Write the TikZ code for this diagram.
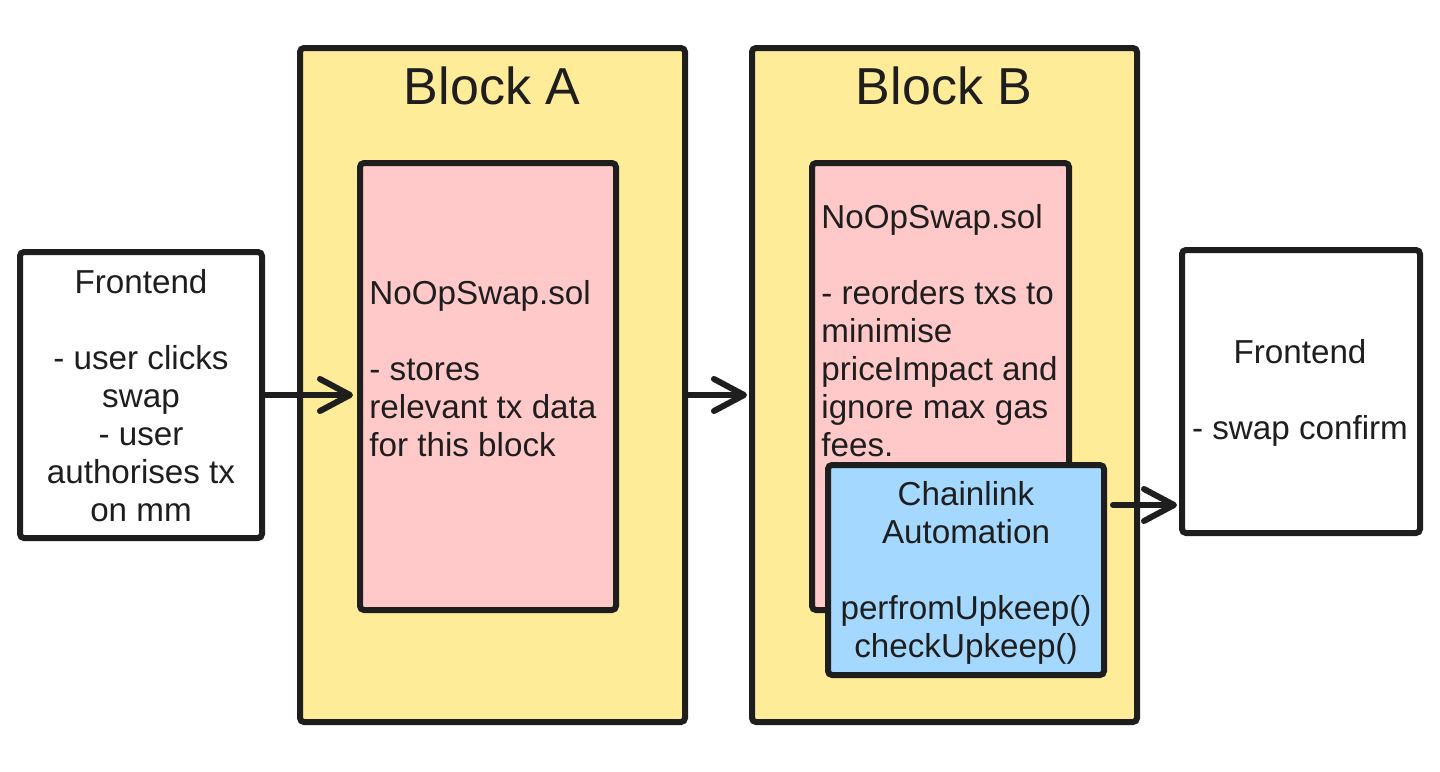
\documentclass[tikz,border=0pt]{standalone}
\usepackage{fontspec}
\setmainfont{Liberation Sans}
\usetikzlibrary{arrows.meta}
\definecolor{ink}{HTML}{1E1E1E}
\definecolor{blockfill}{HTML}{FFEC99}
\definecolor{pinkfill}{HTML}{FFC9C9}
\definecolor{bluefill}{HTML}{A5D8FF}
\begin{document}
\begin{tikzpicture}[x=0.5pt,y=-0.5pt,
  box/.style={draw=ink, line width=3pt, rounded corners=2pt, inner sep=0pt},
  txt/.style={font=\fontsize{16.6}{19}\selectfont, text=ink, inner sep=0pt},
  ttl/.style={font=\fontsize{26}{30}\selectfont, text=ink, inner sep=0pt},
  conn/.style={draw=ink, line width=3pt, line cap=round, line join=round,
    -{Straight Barb[length=15pt 0, width=16pt 0, round]}}]
\useasboundingbox (0,0) rectangle (1440,771);
% boxes
\node (lfe) [box, fill=white, minimum width=121pt, minimum height=143pt] at (141,395) {};
\node (blockA) [box, fill=blockfill, minimum width=192.5pt, minimum height=337pt] at (492.5,385) {};
\node (pinkA) [box, fill=pinkfill, minimum width=128pt, minimum height=223.5pt] at (488,386.5) {};
\node (blockB) [box, fill=blockfill, minimum width=192.5pt, minimum height=337pt] at (944.5,385) {};
\node (pinkB) [box, fill=pinkfill, minimum width=128.5pt, minimum height=223.5pt] at (940.5,386.5) {};
\node (blue) [box, fill=bluefill, minimum width=138pt, minimum height=105pt] at (966,570) {};
\node (rfe) [box, fill=white, minimum width=119pt, minimum height=141.5pt] at (1301,391.5) {};
% titles
\node (titleA) [ttl] at (492,86) {Block A};
\node (titleB) [ttl] at (944,86) {Block B};
% texts
\node (lfeT) [txt, align=center] at (141,395.5) {Frontend\\[19pt]- user clicks\\swap\\- user\\authorises tx\\on mm};
\node (pinkAT) [txt, align=left, anchor=west] at (369,368.5) {NoOpSwap.sol\\[19pt]- stores\\relevant tx data\\for this block};
\node (pinkBT) [txt, align=left, anchor=west] at (821,330.5) {NoOpSwap.sol\\[19pt]- reorders txs to\\minimise\\priceImpact and\\ignore max gas\\fees.};
\node (blueT) [txt, align=center] at (966,572.5) {Chainlink\\Automation\\[19pt]perfromUpkeep()\\checkUpkeep()};
\node (rfeT) [txt, align=center] at (1300,393) {Frontend\\[19pt]- swap confirm};
% connectors
\coordinate (a1) at (0,395);
\coordinate (a3) at (0,505);
\draw[conn] (lfe.east |- a1) -- ([xshift=-2pt]pinkA.west |- a1);
\draw[conn] (blockA.east |- a1) -- ([xshift=-1pt]blockB.west |- a1);
\draw[conn] ([xshift=3pt]blue.east |- a3) -- ([xshift=-1pt]rfe.west |- a3);
\end{tikzpicture}
\end{document}
